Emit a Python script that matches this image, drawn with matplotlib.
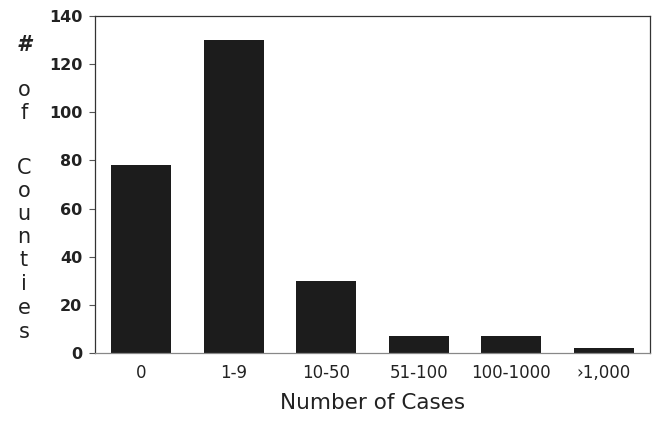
import matplotlib
matplotlib.use('Agg')
import matplotlib.pyplot as plt

categories = ['0', '1-9', '10-50', '51-100', '100-1000', '\u203a1,000']
counties = [78, 130, 30, 7, 7, 2]
yticks = [0, 20, 40, 60, 80, 100, 120, 140]

# vertical stacked y label, one letter per line
ylabel_letters = ['#', 'o', 'f', 'C', 'o', 'u', 'n', 't', 'i', 'e', 's']
ylabel_rows = [45, 90, 113, 168, 191, 214, 237, 260, 284, 308, 332]  # pixel rows

plt.rcParams['font.family'] = ['DejaVu Sans']

fig = plt.figure(figsize=(6.61, 4.23), dpi=100)
ax = fig.add_axes([95 / 661, 70 / 423, 555 / 661, 337 / 423])

x = range(len(categories))
ax.bar(x, counties, width=0.65, color='#1c1c1c')

ax.set_xlim(-0.5, 5.5)
ax.set_ylim(0, 140)
ax.set_yticks(yticks)
ax.set_xticks(list(x))
ax.set_xticklabels(categories, fontsize=12, color='#222222')
ax.tick_params(axis='x', length=0, pad=8)
ax.tick_params(axis='y', length=4, width=0.8, color='#555555', direction='out',
               labelsize=11.5, labelcolor='#222222', pad=5)
for lbl in ax.get_yticklabels():
    lbl.set_fontweight('bold')
for s in ax.spines.values():
    s.set_linewidth(0.9)
    s.set_color('#333333')
ax.spines['bottom'].set_color('#888888')

ax.set_xlabel('Number of Cases', fontsize=15.5, color='#222222', labelpad=8)

for ch, row in zip(ylabel_letters, ylabel_rows):
    fig.text(24 / 661, 1 - row / 423, ch, fontsize=15 if ch != '#' else 15,
             fontweight='bold' if ch == '#' else 'normal', style='italic' if ch == '#' else 'normal',
             ha='center', va='center', color='#222222')

fig.savefig('out.png', dpi=100, facecolor='white')
